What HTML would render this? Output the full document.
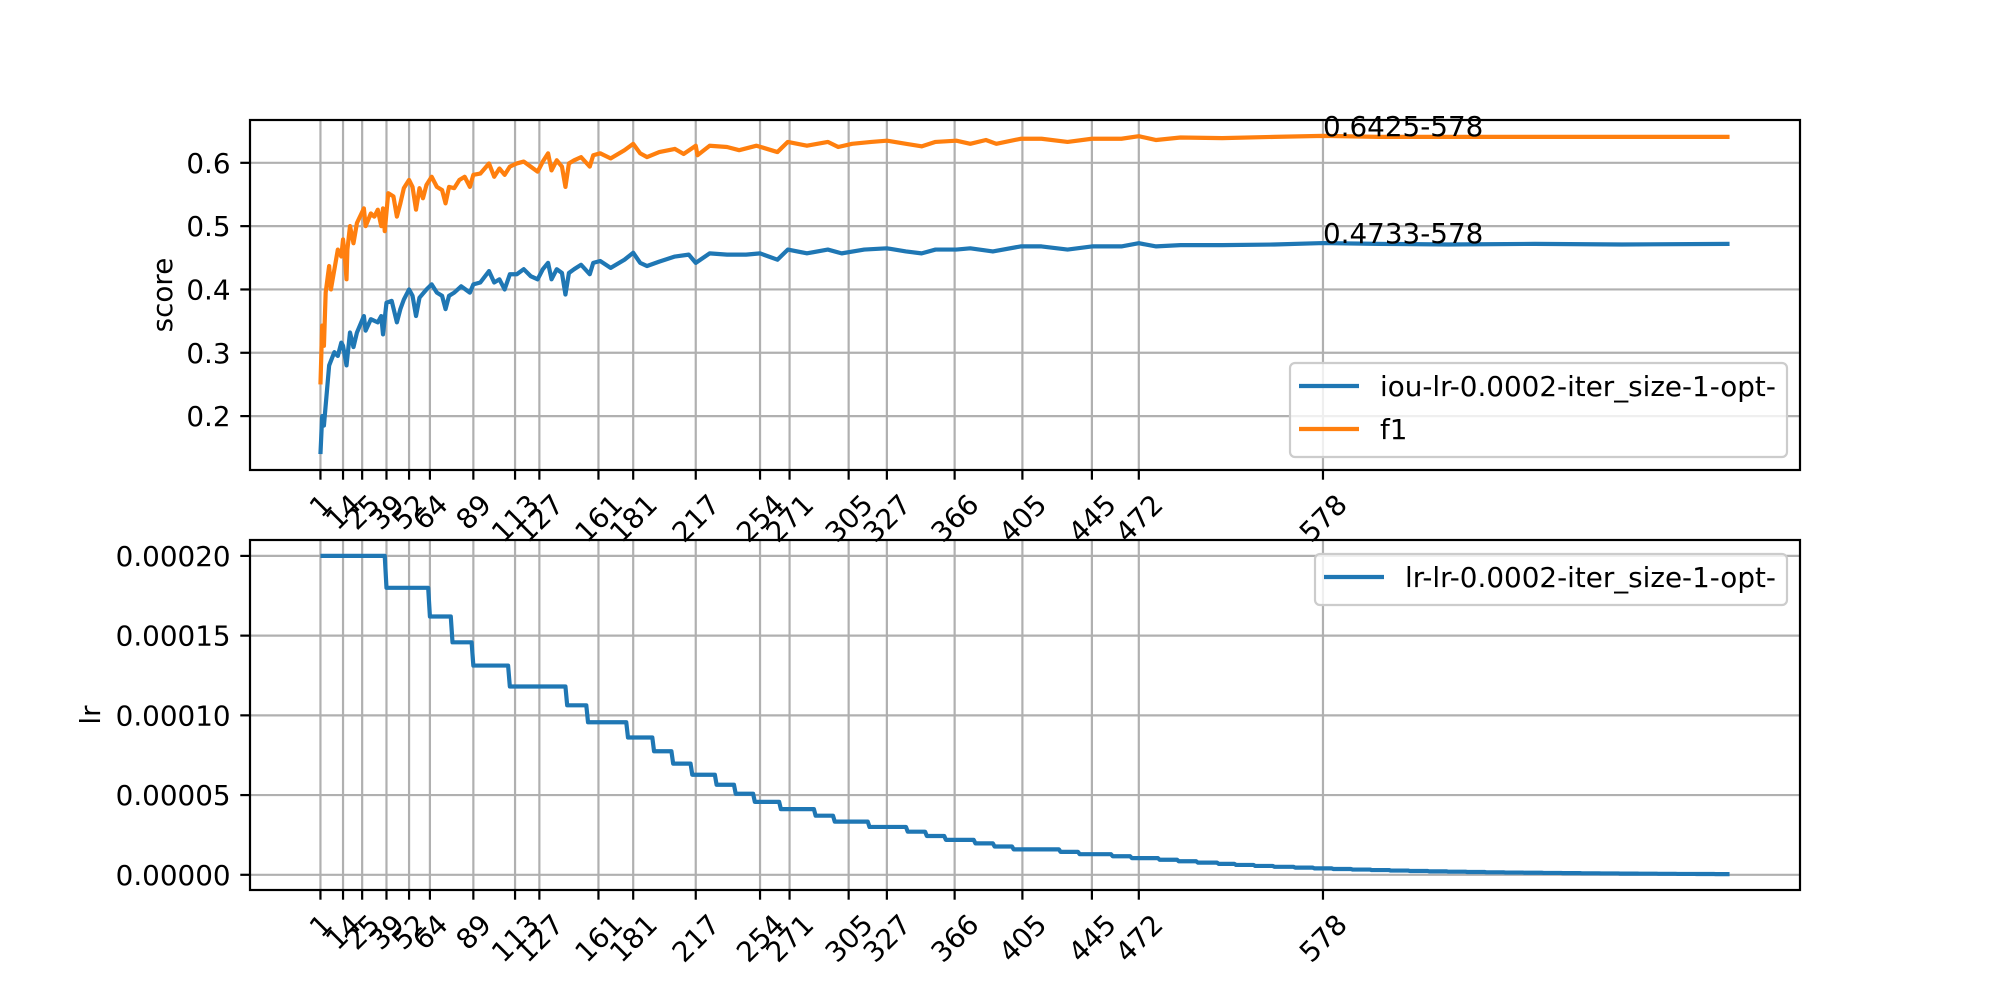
<!DOCTYPE html>
<html><head><meta charset="utf-8"><title>score and lr chart</title>
<style>html,body{margin:0;padding:0;background:#fff}svg{display:block}text{font-family:"DejaVu Sans","Liberation Sans",sans-serif;font-size:27.8px;fill:#000}</style>
</head><body>
<svg id="chart" width="2000" height="1000" viewBox="0 0 2000 1000" xmlns="http://www.w3.org/2000/svg"></svg>
<script>
const xTicks=[1,14,25,39,52,64,89,113,127,161,181,217,254,271,305,327,366,405,445,472,578];
const scoreYTicks=[0.2,0.3,0.4,0.5,0.6];
const lrYTicks=[0,0.00005,0.0001,0.00015,0.0002];
const lrYTickLabels=["0.00000","0.00005","0.00010","0.00015","0.00020"];
const f1Iters=[1,2,3,4,6,7,11,13,14,15,16,16.5,18,20,22,26,27,30,32,34,36,37,38,40,43,45,47,49,52,54,56,58,60,62,65,68,71,73,75,78,81,84,87,89,93,98,101,104,107,110,114,118,122,126,129,132,134,137,140,142,144,147,151,156,158,162,168,176,181,185,189,196,205,210,217,218,225,235,242,252,264,270,281,293,299,307,318,327,338,347,355,367,375,384,390,404,416,431,445,462,472,482,496,520,550,578,610,650,700,750,812];
const f1Values=[0.25,0.343,0.311,0.395,0.437,0.400,0.463,0.452,0.479,0.452,0.416,0.463,0.500,0.473,0.505,0.528,0.500,0.520,0.515,0.526,0.500,0.528,0.492,0.552,0.547,0.515,0.536,0.560,0.573,0.562,0.526,0.560,0.544,0.565,0.578,0.562,0.557,0.536,0.562,0.560,0.573,0.578,0.562,0.581,0.583,0.599,0.578,0.591,0.581,0.594,0.599,0.602,0.594,0.586,0.602,0.615,0.588,0.604,0.594,0.562,0.599,0.604,0.609,0.594,0.612,0.615,0.607,0.620,0.630,0.615,0.609,0.617,0.622,0.614,0.627,0.612,0.627,0.625,0.620,0.627,0.617,0.633,0.627,0.633,0.625,0.630,0.633,0.635,0.630,0.626,0.633,0.635,0.630,0.636,0.630,0.638,0.638,0.633,0.638,0.638,0.642,0.636,0.640,0.639,0.641,0.6425,0.641,0.641,0.641,0.641,0.641];
const iouIters=[1,2,3,6,9,11,13,14,16,18,20,22,26,27,30,34,36,37,39,42,45,47,49,52,54,56,58,62,65,68,71,73,75,78,82,87,89,93,98,101,104,107,110,114,118,122,126,129,132,134,137,140,142,144,147,151,156,158,162,168,176,181,185,189,196,205,213,217,225,235,246,254,264,270,281,293,301,314,327,338,347,355,367,375,388,404,416,431,445,462,472,482,496,520,550,578,610,650,700,750,812];
const iouValues=[0.14,0.20,0.185,0.280,0.301,0.295,0.316,0.311,0.280,0.332,0.309,0.332,0.358,0.335,0.353,0.348,0.358,0.329,0.379,0.382,0.348,0.369,0.384,0.400,0.390,0.358,0.387,0.400,0.408,0.395,0.390,0.369,0.390,0.395,0.405,0.395,0.408,0.411,0.429,0.411,0.416,0.400,0.424,0.424,0.432,0.421,0.416,0.432,0.442,0.416,0.432,0.426,0.392,0.426,0.432,0.439,0.424,0.442,0.445,0.434,0.447,0.458,0.442,0.437,0.444,0.452,0.455,0.442,0.457,0.455,0.455,0.457,0.447,0.463,0.457,0.463,0.457,0.463,0.465,0.460,0.457,0.463,0.463,0.465,0.460,0.468,0.468,0.463,0.468,0.468,0.473,0.468,0.470,0.470,0.471,0.4733,0.472,0.471,0.472,0.471,0.472];
const lrDropIters=[39,64,77,89,110,143,155,178,193,204,215,229,240,251,266,286,297,317,339,350,361,378,389,400,427,438,457,468,484,495,506,518,528,539,550,562,573,584,595,606,617,628,639,650,661,672,683,694,705,716,727,738,749,760,771,782,793,804];
const lrValues=[200e-6,180e-6,162e-6,145.8e-6,131.22e-6,118.10e-6,106.29e-6,95.66e-6,86.09e-6,77.48e-6,69.74e-6,62.76e-6,56.49e-6,50.84e-6,45.75e-6,41.18e-6,37.06e-6,33.35e-6,30.02e-6,27.02e-6,24.32e-6,21.88e-6,19.70e-6,17.73e-6,15.95e-6,14.36e-6,12.92e-6,11.63e-6,10.47e-6,9.42e-6,8.48e-6,7.63e-6,6.87e-6,6.18e-6,5.56e-6,5.01e-6,4.51e-6,4.05e-6,3.65e-6,3.29e-6,2.96e-6,2.66e-6,2.39e-6,2.15e-6,1.94e-6,1.75e-6,1.57e-6,1.41e-6,1.27e-6,1.15e-6,1.03e-6,0.93e-6,0.84e-6,0.75e-6,0.68e-6,0.61e-6,0.55e-6,0.49e-6,0.44e-6];
const lastIter=812;
const annotations=[{iter:578,value:0.6425,label:"0.6425-578"},{iter:578,value:0.4733,label:"0.4733-578"}];

const svg=document.getElementById('chart');
const NS='http://www.w3.org/2000/svg';
function mk(tag,attrs,parent){const e=document.createElementNS(NS,tag);for(const k in attrs)e.setAttribute(k,attrs[k]);(parent||svg).appendChild(e);return e;}
const AX_L=250,AX_R=1800;
const xMin=1-0.05*(lastIter-1),xMax=lastIter+0.05*(lastIter-1);
function xPix(v){return AX_L+(v-xMin)/(xMax-xMin)*(AX_R-AX_L);}
const top1=120,bot1=470,top2=540,bot2=890;
const s1Min=0.14-0.05*(0.6425-0.14),s1Max=0.6425+0.05*(0.6425-0.14);
function y1(v){return bot1-(v-s1Min)/(s1Max-s1Min)*(bot1-top1);}
const s2Min=0.44e-6-0.05*(200e-6-0.44e-6),s2Max=200e-6+0.05*(200e-6-0.44e-6);
function y2(v){return bot2-(v-s2Min)/(s2Max-s2Min)*(bot2-top2);}
const TL=9.7,PAD=9.7,GW=2.2,LW=4.2;

function drawAxes(top,bot,yFn,yTicks,yLabels,axName,yTitle,yTitleX){
  const g=mk('g',{});
  
  
  xTicks.forEach(t=>{const l=mk('line',{x1:xPix(t),x2:xPix(t),y1:top,y2:bot,stroke:'#b0b0b0','stroke-width':GW},g);
    });
  yTicks.forEach(t=>{const l=mk('line',{x1:AX_L,x2:AX_R,y1:yFn(t),y2:yFn(t),stroke:'#b0b0b0','stroke-width':GW},g);
    });
  xTicks.forEach(t=>{const x=xPix(t);
    mk('line',{x1:x,x2:x,y1:bot,y2:bot+TL,stroke:'#000','stroke-width':GW},g);
    const s=String(t);const w=s.length*17.7,h=27.8;const bh=(w+h)/Math.SQRT2;
    const cy=bot+TL+PAD+bh/2;
    const tx=mk('text',{x:x,y:cy+10,'text-anchor':'middle',transform:`rotate(-45 ${x} ${cy})`},g);
    tx.textContent=s;});
  yTicks.forEach((t,i)=>{const y=yFn(t);
    mk('line',{x1:AX_L-TL,x2:AX_L,y1:y,y2:y,stroke:'#000','stroke-width':GW},g);
    const tx=mk('text',{x:AX_L-TL-PAD,y:y+10,'text-anchor':'end'},g);
    tx.textContent=yLabels[i];});
  const yt=mk('text',{x:yTitleX,y:(top+bot)/2,'text-anchor':'middle',transform:`rotate(-90 ${yTitleX} ${(top+bot)/2})`},g);
  yt.textContent=yTitle;
  return g;
}
function frame(top,bot,name){const r=mk('rect',{x:AX_L,y:top,width:AX_R-AX_L,height:bot-top,fill:'none',stroke:'#000','stroke-width':GW});
  }

drawAxes(top1,bot1,y1,scoreYTicks,scoreYTicks.map(v=>v.toFixed(1)),'score-axes','score',172);
drawAxes(top2,bot2,y2,lrYTicks,lrYTickLabels,'lr-axes','lr',100);

function polyline(xs,ys,yFn,color,name){const pts=xs.map((x,i)=>xPix(x).toFixed(2)+','+yFn(ys[i]).toFixed(2)).join(' ');
  const p=mk('polyline',{points:pts,fill:'none',stroke:color,'stroke-width':LW,'stroke-linejoin':'round'});
  }
polyline(iouIters,iouValues,y1,'#1f77b4','iou-line');
polyline(f1Iters,f1Values,y1,'#ff7f0e','f1-line');

{const xs=[1],ys=[lrValues[0]];
 lrDropIters.forEach((d,i)=>{xs.push(d-1);ys.push(lrValues[i]);xs.push(d);ys.push(lrValues[i+1]);});
 xs.push(lastIter);ys.push(lrValues[lrValues.length-1]);
 polyline(xs,ys,y2,'#1f77b4','lr-line');}

annotations.forEach(a=>{const t=mk('text',{x:xPix(a.iter),y:y1(a.value)});
  t.textContent=a.label;});

frame(top1,bot1,'score-axes-frame');frame(top2,bot2,'lr-axes-frame');

function legend(x,y,w,h,entries,name){const g=mk('g',{});
  
  mk('rect',{x:x,y:y,width:w,height:h,rx:5,fill:'#fff','fill-opacity':0.8,stroke:'#cccccc','stroke-width':2.2},g);
  entries.forEach((e,i)=>{const cy=y+23+i*43;
    mk('line',{x1:x+9,x2:x+69,y1:cy,y2:cy,stroke:e.c,'stroke-width':LW},g);
    const t=mk('text',{x:x+90,y:cy+10},g);
    t.textContent=e.t;});}
legend(1290,363,497,94,[{t:'iou-lr-0.0002-iter_size-1-opt-',c:'#1f77b4'},{t:'f1',c:'#ff7f0e'}],'score-legend');
legend(1315,554,472,51,[{t:'lr-lr-0.0002-iter_size-1-opt-',c:'#1f77b4'}],'lr-legend');
</script>
</body></html>
